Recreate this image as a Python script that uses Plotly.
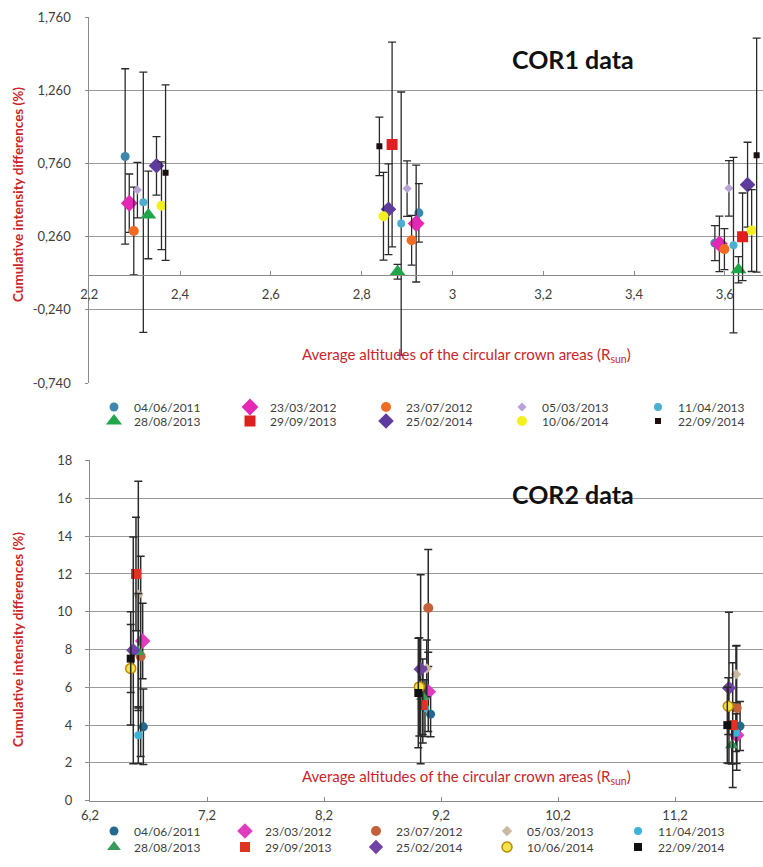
import plotly.graph_objects as go

# ---------------- data ----------------
dates = ["04/06/2011", "23/03/2012", "23/07/2012", "05/03/2013", "11/04/2013",
         "28/08/2013", "29/09/2013", "25/02/2014", "10/06/2014", "22/09/2014"]

# COR1: altitude (R_sun), value (%), symmetric error (%)
cor1_alt = [
    [2.279, 2.926, 3.578],
    [2.288, 2.920, 3.588],
    [2.298, 2.910, 3.599],
    [2.306, 2.900, 3.609],
    [2.319, 2.887, 3.619],
    [2.330, 2.879, 3.630],
    [None, 2.867, 3.639],
    [2.348, 2.859, 3.650],
    [2.359, 2.848, 3.659],
    [2.368, 2.839, 3.670],
]
cor1_val = [
    [0.810, 0.424, 0.217],
    [0.490, 0.351, 0.212],
    [0.300, 0.237, 0.176],
    [0.580, 0.590, 0.592],
    [0.497, 0.351, 0.203],
    [0.410, 0.021, 0.035],
    [None, 0.892, 0.260],
    [0.746, 0.449, 0.617],
    [0.473, 0.401, 0.303],
    [0.699, 0.879, 0.819],
]
cor1_err = [
    [0.60, 0.20, 0.12],
    [0.20, 0.40, 0.19],
    [0.30, 0.17, 0.14],
    [0.19, 0.19, 0.19],
    [0.89, 0.90, 0.60],
    [0.30, 0.05, 0.09],
    [0.00, 0.70, 0.30],
    [0.20, 0.31, 0.29],
    [0.30, 0.30, 0.28],
    [0.60, 0.20, 0.80],
]

# COR2
cor2_alt = [
    [6.656, 9.111, 11.756],
    [6.650, 9.091, 11.727],
    [6.633, 9.091, 11.727],
    [6.613, 9.078, 11.721],
    [6.613, 9.063, 11.720],
    [6.613, 9.044, 11.685],
    [6.593, 9.044, 11.693],
    [6.570, 9.026, 11.661],
    [6.548, 9.015, 11.655],
    [6.548, 9.006, 11.647],
]
cor2_val = [
    [3.91, 4.58, 3.95],
    [8.45, 5.76, 3.47],
    [7.64, 10.20, 4.91],
    [10.90, 7.00, 6.69],
    [3.47, 4.90, 3.60],
    [7.87, 5.50, 2.94],
    [12.00, 5.06, 4.00],
    [7.96, 6.96, 5.97],
    [7.00, 6.02, 5.00],
    [7.52, 5.70, 4.00],
]
cor2_err = [
    [2.0, 1.2, 1.3],
    [2.0, 2.1, 1.5],
    [5.3, 3.1, 3.3],
    [6.0, 1.5, 1.5],
    [1.5, 1.5, 1.0],
    [3.1, 2.0, 1.0],
    [3.0, 2.0, 3.3],
    [6.0, 5.0, 4.0],
    [3.0, 2.6, 1.5],
    [1.8, 2.9, 2.0],
]

cor1_yticks = [-0.74, -0.24, 0.26, 0.76, 1.26, 1.76]
cor1_ytext = ["-0,740", "-0,240", "0,260", "0,760", "1,260", "1,760"]
cor1_xticks = [2.2, 2.4, 2.6, 2.8, 3.0, 3.2, 3.4, 3.6]
cor1_xtext = ["2,2", "2,4", "2,6", "2,8", "3", "3,2", "3,4", "3,6"]
cor2_yticks = [0, 2, 4, 6, 8, 10, 12, 14, 16, 18]
cor2_xticks = [6.2, 7.2, 8.2, 9.2, 10.2, 11.2]
cor2_xtext = ["6,2", "7,2", "8,2", "9,2", "10,2", "11,2"]

# ---------------- styles ----------------
symbols = ["circle", "diamond", "circle", "diamond", "circle",
           "triangle-up", "square", "diamond", "circle", "square"]
cor1_colors = ["#3f87ad", "#e528b4", "#f26b23", "#b7a3d6", "#4bb0cf",
               "#21a54a", "#e0201e", "#5d3c9e", "#f2f01e", "#1a0e0e"]
cor1_sizes = [9, 13, 10, 7, 8, 14, 11, 12, 10, 6]
cor2_colors = ["#23698f", "#e03cbf", "#c4603a", "#c9b9a3", "#3eb3da",
               "#3a9a5c", "#e03222", "#7042a6", "#f2e44a", "#111111"]
cor2_sizes = [9, 12, 10, 8, 8, 12, 10, 11, 10, 8]

W, H = 763, 867
FONT = "Lato, 'Open Sans', sans-serif"
RED = "#c8262b"
TXT = "#404040"
GRID = "#9a9a9a"
ERRC = "#2a2a2a"


def px_y(p):
    return 1 - p / H


fig = go.Figure()

for i, d in enumerate(dates):
    fig.add_trace(go.Scatter(
        x=cor1_alt[i], y=cor1_val[i], mode="markers", name=d,
        xaxis="x", yaxis="y",
        legend="legend" if i < 5 else "legend2",
        marker=dict(symbol=symbols[i], color=cor1_colors[i], size=cor1_sizes[i],
                    line=dict(width=0)),
        error_y=dict(type="data", array=cor1_err[i], visible=True,
                     color=ERRC, thickness=1.3, width=4),
    ))

for i, d in enumerate(dates):
    line = dict(width=1.5, color="#c08a00") if i == 8 else dict(width=0)
    fig.add_trace(go.Scatter(
        x=cor2_alt[i], y=cor2_val[i], mode="markers", name=d,
        xaxis="x2", yaxis="y2",
        legend="legend3" if i < 5 else "legend4",
        marker=dict(symbol=symbols[i], color=cor2_colors[i], size=cor2_sizes[i],
                    line=line),
        error_y=dict(type="data", array=cor2_err[i], visible=True,
                     color=ERRC, thickness=1.5, width=4),
    ))

tickfont = dict(family=FONT, size=13, color=TXT)

# top panel domains
top_y0, top_y1 = px_y(383.3), px_y(17.3)
y0_frac = (0 - (-0.74)) / 2.5
top_xaxis_pos = top_y0 + y0_frac * (top_y1 - top_y0)

legend_common = dict(orientation="h", xanchor="left", yanchor="middle",
                     font=dict(family=FONT, size=12, color=TXT),
                     bgcolor="rgba(0,0,0,0)", itemwidth=30,
                     entrywidthmode="pixels", tracegroupgap=0)

fig.update_layout(
    width=W, height=H,
    margin=dict(l=0, r=0, t=0, b=0, autoexpand=False),
    paper_bgcolor="white", plot_bgcolor="white",
    font=dict(family=FONT, color=TXT),
    xaxis=dict(domain=[89.3 / W, 1.0], range=[2.2, 3.684],
               anchor="free", position=top_xaxis_pos,
               tickvals=cor1_xticks, ticktext=cor1_xtext,
               showgrid=False, zeroline=False,
               showline=True, linecolor="#8a8a8a", linewidth=1,
               ticks="inside", ticklen=4, tickcolor="#8a8a8a",
               tickfont=tickfont, ticklabelstandoff=7),
    yaxis=dict(domain=[top_y0, top_y1], range=[-0.742, 1.762], anchor="x",
               tickvals=cor1_yticks, ticktext=cor1_ytext,
               showgrid=True, gridcolor=GRID, gridwidth=1, zeroline=False,
               showline=True, linecolor="#8a8a8a", linewidth=1,
               ticks="outside", ticklen=3, tickcolor="#8a8a8a",
               tickfont=tickfont, ticklabelstandoff=12),
    xaxis2=dict(domain=[90 / W, 1.0], range=[6.2, 11.952], anchor="y2",
                tickvals=cor2_xticks, ticktext=cor2_xtext,
                showgrid=False, zeroline=False,
                showline=True, linecolor="#8a8a8a", linewidth=1,
                ticks="inside", ticklen=4, tickcolor="#8a8a8a",
                tickfont=tickfont, ticklabelstandoff=3),
    yaxis2=dict(domain=[px_y(800.7), px_y(460)], range=[0, 18.03], anchor="x2",
                tickvals=cor2_yticks,
                showgrid=True, gridcolor=GRID, gridwidth=1, zeroline=False,
                showline=True, linecolor="#8a8a8a", linewidth=1,
                ticks="outside", ticklen=4, tickcolor="#8a8a8a",
                tickfont=tickfont, ticklabelstandoff=10),
    showlegend=True,
    legend=dict(x=94 / W, y=px_y(407), entrywidth=91, **legend_common),
    legend2=dict(x=94 / W, y=px_y(421), entrywidth=91, **legend_common),
    legend3=dict(x=94 / W, y=px_y(831), entrywidth=86, **legend_common),
    legend4=dict(x=94 / W, y=px_y(847), entrywidth=86, **legend_common),
)

xtitle = "Average altitudes of the circular crown areas (R<sub>sun</sub>)"
ytitle = "<b>Cumulative intensity differences (%)</b>"
ann = [
    dict(text="<b>COR1 data</b>", x=573 / W, y=px_y(59), font=dict(size=25, color="#111")),
    dict(text="<b>COR2 data</b>", x=573 / W, y=px_y(494), font=dict(size=25, color="#111")),
    dict(text=xtitle, x=466 / W, y=px_y(355), font=dict(size=15, color=RED)),
    dict(text=xtitle, x=466 / W, y=px_y(777), font=dict(size=15, color=RED)),
    dict(text=ytitle, x=18 / W, y=px_y(195), textangle=-90, font=dict(size=13.5, color=RED)),
    dict(text=ytitle, x=18 / W, y=px_y(640), textangle=-90, font=dict(size=13.5, color=RED)),
]
for a in ann:
    a.update(xref="paper", yref="paper", showarrow=False,
             xanchor="center", yanchor="middle")
    a["font"]["family"] = FONT
fig.update_layout(annotations=ann)

fig.write_html("out.html",
               config={"displayModeBar": False},
               post_script="document.body.style.margin='0';document.body.style.overflow='hidden';")
